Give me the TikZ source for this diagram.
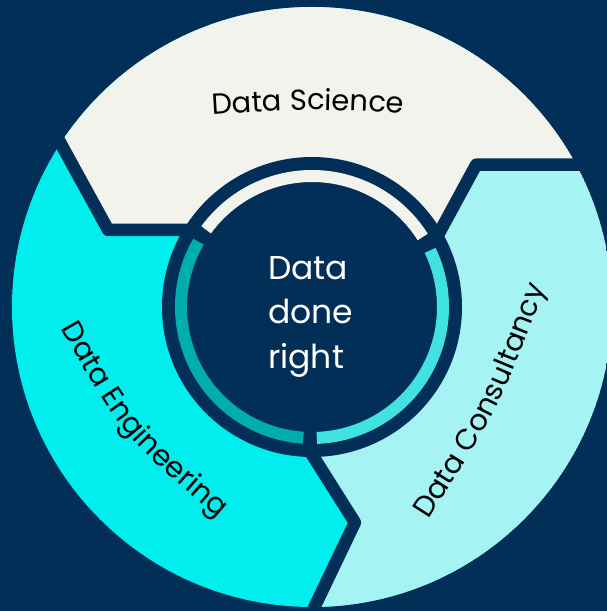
\documentclass[tikz,border=0pt]{standalone}
\usepackage{fontspec}
\newfontfamily\popfam{Poppins}
\usetikzlibrary{decorations.text}
\definecolor{navy}{RGB}{1,47,88}
\definecolor{segDS}{RGB}{243,243,238}
\definecolor{segDE}{RGB}{0,238,238}
\definecolor{segDC}{RGB}{165,243,243}
\definecolor{arcDE}{RGB}{0,173,173}
\definecolor{arcDC}{RGB}{64,226,226}
\newcommand\lblfont{\popfam\fontsize{29pt}{31pt}\selectfont}
\tikzset{
  sepline/.style={draw=navy, line width=12.5pt, line join=round},
  ringarc/.style={line width=12pt, line cap=butt},
  centertxt/.style={text=white, font=\popfam\fontsize{33pt}{40pt}\selectfont, inner sep=0pt, anchor=base west},
}
\begin{document}
\begin{tikzpicture}[x=1pt,y=1pt]
\useasboundingbox (0,0) rectangle (607,611);
\fill[navy] (0,0) rectangle (607,611);
\coordinate (C) at (312,304);
\coordinate (I1) at (195,381);
\coordinate (E1) at (108.2,381);
\coordinate (O1) at (40.9,503.6);
\coordinate (I2) at (435.3,371);
\coordinate (E2) at (476.2,446.3);
\coordinate (O2) at (620,446.3);
\coordinate (I3) at (306,166);
\coordinate (E3) at (354.9,88.5);
\coordinate (O3) at (298.2,-30);
\begin{scope}
\clip (0,0) rectangle (607,611);
\begin{scope}
\clip (C) circle (300);
\fill[segDE] (C) circle (300);
\fill[segDS] (C) -- (I1) -- (E1) -- (O1) -- (-20,640) -- (640,640) -- (640,446.3) -- (O2) -- (E2) -- (I2) -- cycle;
\fill[segDC] (C) -- (I2) -- (E2) -- (O2) -- (640,446.3) -- (640,-30) -- (O3) -- (E3) -- (I3) -- cycle;
\end{scope}
\draw[sepline] (I1) -- (E1) -- (O1);
\draw[sepline] (I2) -- (E2) -- (O2);
\draw[sepline] (I3) -- (E3) -- (O3);
\fill[navy] (C) circle (150);
\draw[ringarc, segDS] ([shift={(32.3:131)}]C) arc[start angle=32.3, end angle=143.9, radius=131];
\draw[ringarc, arcDE] ([shift={(150.1:131)}]C) arc[start angle=150.1, end angle=266.2, radius=131];
\draw[ringarc, arcDC] ([shift={(272.1:131)}]C) arc[start angle=272.1, end angle=385.6, radius=131];
\end{scope}
\path[decorate, decoration={text along path, text align=center, text={|\lblfont|Data Science}}]
  (210,496.5) .. controls (308,502.3) .. (406,497.5);
\path[decorate, decoration={text along path, text align=center, text={|\lblfont|Data Engineering}}]
  (60,284) .. controls (122.5,175) .. (220,92);
\path[decorate, decoration={text along path, text align=center, text={|\lblfont|Data Consultancy}}]
  (430,94) .. controls (498.6,201.1) .. (544,320);
\node[centertxt] (cdata) at (268,331.7) {Data};
\node[centertxt] (cdone) at (268,287.7) {done};
\node[centertxt] (cright) at (268,242.7) {right};
\end{tikzpicture}
\end{document}
